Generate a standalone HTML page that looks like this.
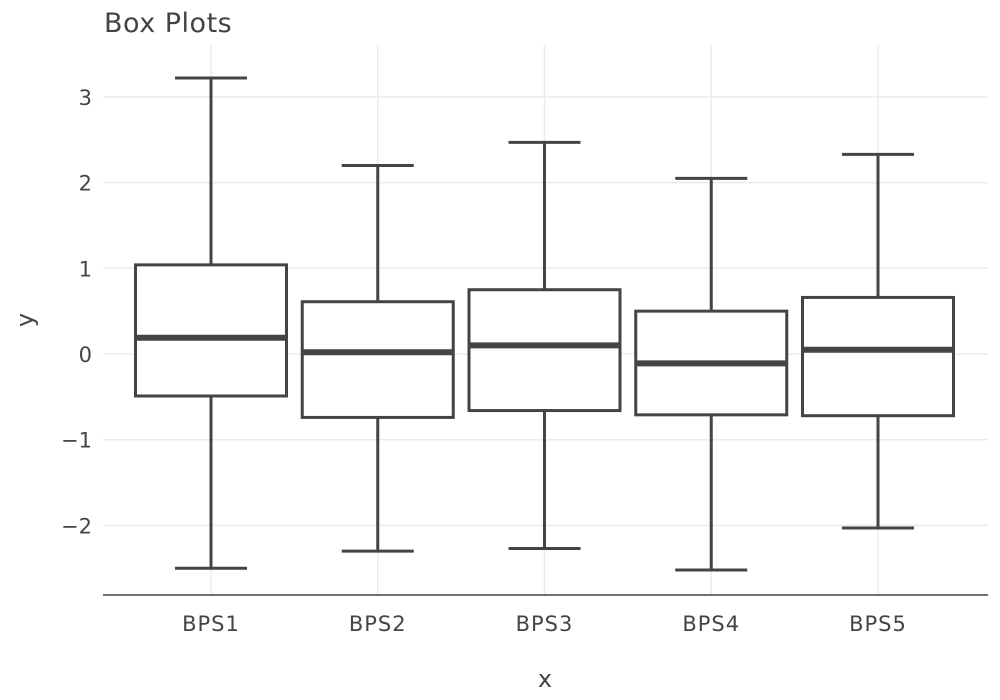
<!DOCTYPE html>
<html><head><meta charset="utf-8"><style>
body{margin:0;background:#fff;}
svg{display:block;font-family:"DejaVu Sans","Liberation Sans",sans-serif;}
</style></head><body>
<svg id="chart" width="1000" height="700">
<text x="104" y="32" font-size="27" letter-spacing="0.5" fill="#444">Box Plots</text>
<g id="grid"></g><g id="boxes"></g><g id="axes"></g>
<text x="0" y="0" font-size="24" fill="#444" text-anchor="middle" transform="translate(33,320) rotate(-90)">y</text>
<text x="545" y="687" font-size="24" fill="#444" text-anchor="middle">x</text>
</svg>
<script>
const categories = ["BPS1","BPS2","BPS3","BPS4","BPS5"];
const maxVals = [3.22, 2.20, 2.47, 2.05, 2.33];
const q3Vals = [1.04, 0.61, 0.75, 0.50, 0.66];
const medVals = [0.19, 0.02, 0.10, -0.11, 0.05];
const q1Vals = [-0.49, -0.74, -0.66, -0.71, -0.72];
const minVals = [-2.50, -2.30, -2.27, -2.52, -2.03];
const yTicks = [-2, -1, 0, 1, 2, 3];
const yTickLabels = ["\u22122","\u22121","0","1","2","3"];

const NS="http://www.w3.org/2000/svg";
const yScale = v => 354 - 85.7*v;
const xScale = i => 211 + i*166.75;
const boxW = 151, capW = 72, col="#444";
function mk(tag, attrs, parent){const e=document.createElementNS(NS,tag);for(const k in attrs)e.setAttribute(k,attrs[k]);parent.appendChild(e);return e;}
const grid=document.getElementById('grid'), boxes=document.getElementById('boxes'), axes=document.getElementById('axes');
yTicks.forEach((t,i)=>{
  const l=mk('line',{x1:103,x2:988,y1:yScale(t),y2:yScale(t),stroke:"#ebebeb","stroke-width":1.5},grid);
  
  
  const tx=mk('text',{x:92,y:yScale(t)+8,"font-size":21,fill:col,"text-anchor":"end"},axes);
  tx.textContent=yTickLabels[i];
  
  
});
categories.forEach((c,i)=>{
  const x=xScale(i);
  const g=mk('line',{x1:x,x2:x,y1:45,y2:595,stroke:"#ebebeb","stroke-width":1.5},grid);
  
  
  const bg=mk('g',{},boxes);
  
  
  mk('line',{x1:x,x2:x,y1:yScale(maxVals[i]),y2:yScale(q3Vals[i]),stroke:col,"stroke-width":3},bg);
  mk('line',{x1:x,x2:x,y1:yScale(q1Vals[i]),y2:yScale(minVals[i]),stroke:col,"stroke-width":3},bg);
  mk('line',{x1:x-capW/2,x2:x+capW/2,y1:yScale(maxVals[i]),y2:yScale(maxVals[i]),stroke:col,"stroke-width":3},bg);
  mk('line',{x1:x-capW/2,x2:x+capW/2,y1:yScale(minVals[i]),y2:yScale(minVals[i]),stroke:col,"stroke-width":3},bg);
  mk('rect',{x:x-boxW/2,y:yScale(q3Vals[i]),width:boxW,height:yScale(q1Vals[i])-yScale(q3Vals[i]),fill:"#fff",stroke:col,"stroke-width":3},bg);
  mk('line',{x1:x-boxW/2,x2:x+boxW/2,y1:yScale(medVals[i]),y2:yScale(medVals[i]),stroke:col,"stroke-width":6},bg);
  const tx=mk('text',{x:x,y:631,"font-size":21,"letter-spacing":1,fill:col,"text-anchor":"middle"},axes);
  tx.textContent=c;
  
  
});
const ax=mk('line',{x1:103,x2:988,y1:595,y2:595,stroke:col,"stroke-width":1.5},axes);


</script>
</body></html>
